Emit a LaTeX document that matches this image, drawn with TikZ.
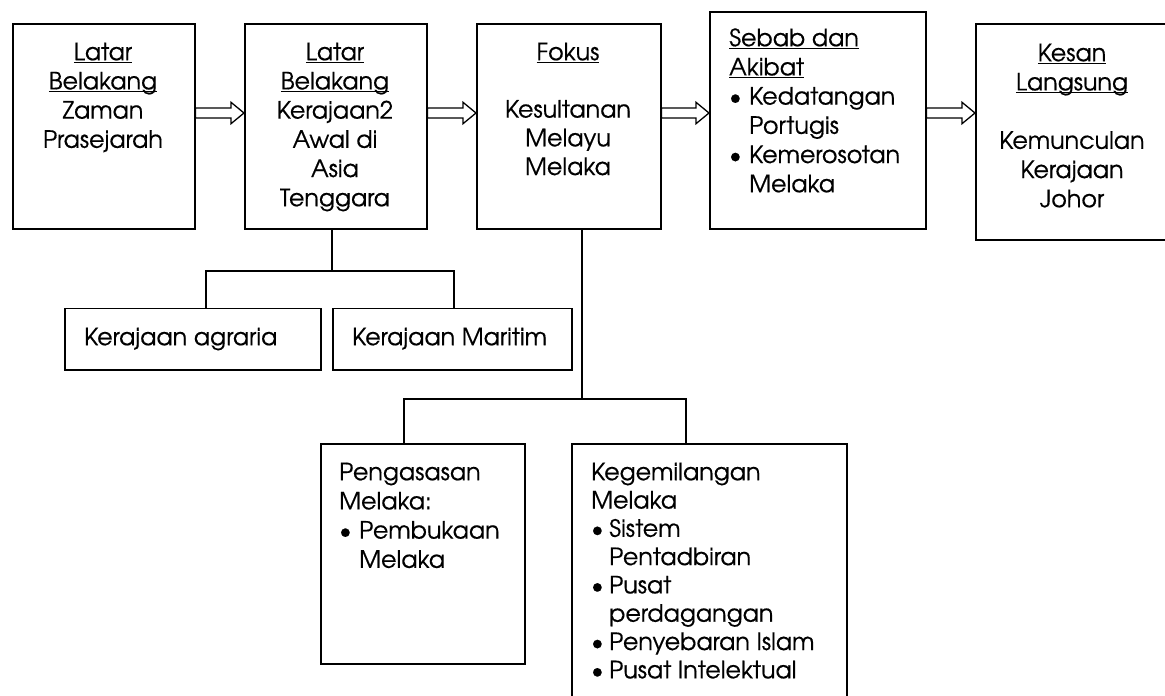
\documentclass[tikz,border=0pt]{standalone}
\usepackage{fontspec}
\setmainfont{TeX Gyre Adventor}[AutoFakeBold=0.45]
\usetikzlibrary{calc}
\newcommand\ulin[1]{\sbox0{#1}\rlap{\rule[-2.8pt]{\wd0}{1.3pt}}\usebox0}
\newcommand\fl{\rule{0pt}{18.5pt}}
\newcommand\bul{\makebox[20pt][l]{\textbullet}}
\newcommand\ind{\makebox[20pt]{}}
\newcommand\bulb{\makebox[18pt][l]{\textbullet}}
\newcommand\indb{\makebox[18pt]{}}
\newcommand\harrow[2]{%
  \draw[arr] ($(#1.east|-ay)+(0,-5)$) -- ($(#2.west|-ay)+(-13,-5)$) -- ($(#2.west|-ay)+(-13,-10.7)$) -- (#2.west|-ay)
    -- ($(#2.west|-ay)+(-13,10.7)$) -- ($(#2.west|-ay)+(-13,5)$) -- ($(#1.east|-ay)+(0,5)$) -- cycle;}
\begin{document}
\begin{tikzpicture}[x=1pt,y=-1pt,
  box/.style={draw, line width=1.5pt, inner sep=0, anchor=north west},
  txt/.style={inner sep=0, font=\fontsize{23.8}{29.2}\selectfont\bfseries},
  conn/.style={line width=1.5pt},
  arr/.style={line width=1.3pt, line join=miter, fill=white}]
\useasboundingbox (0,0) rectangle (1165,696);
% boxes
\node[box, minimum width=182, minimum height=205] (b1) at (12,23) {};
\node[box, minimum width=182, minimum height=205] (b2) at (244,23) {};
\node[box, minimum width=184, minimum height=205] (b3) at (476,23) {};
\node[box, minimum width=216, minimum height=217] (b4) at (709,11) {};
\node[box, minimum width=200, minimum height=216] (b5) at (975,23) {};
\node[box, minimum width=256, minimum height=61.5] (ka) at (64,307.5) {};
\node[box, minimum width=239, minimum height=61.5] (km) at (332,307.5) {};
\node[box, minimum width=204, minimum height=220] (pb) at (320,443) {};
\node[box, minimum width=275, minimum height=300] (kb) at (571,443) {};
% texts
\node[txt, anchor=north, align=center] (t1) at (103,41.5) {\fl\ulin{Latar}\\\ulin{Belakang}\\Zaman\\Prasejarah};
\node[txt, anchor=north, align=center] (t2) at (335,41.5) {\fl\ulin{Latar}\\\ulin{Belakang}\\Kerajaan2\\Awal di\\Asia\\Tenggara};
\node[txt, anchor=north, align=center, font=\fontsize{23.8}{28.7}\selectfont\bfseries] (t3) at (568,41.5) {\fl\ulin{Fokus}\\[28.7pt]Kesultanan\\Melayu\\Melaka};
\node[txt, anchor=north west, align=left] (t4) at (729,27.5) {\fl\ulin{Sebab dan}\\\ulin{Akibat}\\\bul Kedatangan\\\ind Portugis\\\bul Kemerosotan\\\ind Melaka};
\node[txt, anchor=north, align=center] (t5) at (1072,42.5) {\fl\ulin{Kesan}\\\ulin{Langsung}\\[29.2pt]Kemunculan\\Kerajaan\\Johor};
\node[txt, anchor=north west] (tka) at (84,326.5) {\fl Kerajaan agraria};
\node[txt, anchor=north west] (tkm) at (352,326.5) {\fl Kerajaan Maritim};
\node[txt, anchor=north west, align=left] (tpb) at (339,461.5) {\fl Pengasasan\\Melaka:\\\bul Pembukaan\\\ind Melaka};
\node[txt, anchor=north west, align=left, font=\fontsize{23.8}{28.3}\selectfont\bfseries] (tkb) at (591,461.5) {\fl Kegemilangan\\Melaka\\\bulb Sistem\\\indb Pentadbiran\\\bulb Pusat\\\indb perdagangan\\\bulb Penyebaran Islam\\\bulb Pusat Intelektual};
% arrows
\coordinate (ay) at (0,113);
\harrow{b1}{b2}
\harrow{b2}{b3}
\harrow{b3}{b4}
\harrow{b4}{b5}
% tree connectors
\coordinate (h1) at (332,271);
\coordinate (h1a) at (206,271);
\coordinate (h1b) at (454,271);
\draw[conn] (b2.south -| h1) -- (h1);
\draw[conn] (ka.north -| h1a) |- (h1b) -- (km.north -| h1b);
\coordinate (h2) at (582,399);
\coordinate (h2a) at (404,399);
\coordinate (h2b) at (686,399);
\draw[conn] (b3.south -| h2) -- (h2);
\draw[conn] (pb.north -| h2a) |- (h2b) -- (kb.north -| h2b);
\end{tikzpicture}
\end{document}
